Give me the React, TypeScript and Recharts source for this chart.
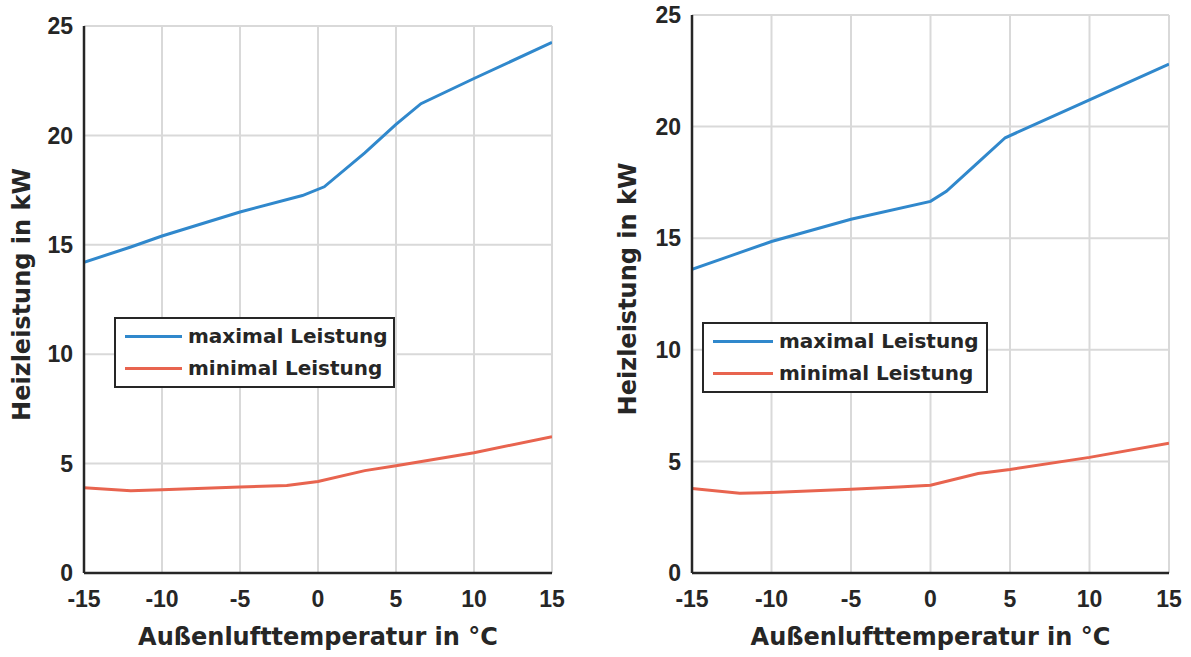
import React from 'react';
import {
  LineChart,
  Line,
  XAxis,
  YAxis,
  CartesianGrid,
  Legend
} from 'recharts';

// temperature ticks / power ticks
const xTicks = [-15, -10, -5, 0, 5, 10, 15];
const yTicks = [0, 5, 10, 15, 20, 25];

// left plot
const leftMaxT = [-15, -12, -10, -5, -1, 0.4, 3, 5, 6.6, 10, 15];
const leftMaxP = [14.2, 14.9, 15.4, 16.5, 17.25, 17.65, 19.2, 20.5, 21.45, 22.6, 24.25];
const leftMinT = [-15, -12, -10, -5, -2, 0, 3, 5, 10, 15];
const leftMinP = [3.9, 3.76, 3.8, 3.93, 4.0, 4.18, 4.68, 4.9, 5.5, 6.23];

// right plot
const rightMaxT = [-15, -12, -10, -5, 0, 1, 3, 4.7, 10, 15];
const rightMaxP = [13.6, 14.35, 14.85, 15.85, 16.65, 17.1, 18.4, 19.5, 21.2, 22.8];
const rightMinT = [-15, -12, -10, -5, -2, 0, 3, 5, 10, 15];
const rightMinP = [3.79, 3.57, 3.61, 3.75, 3.85, 3.93, 4.46, 4.64, 5.18, 5.81];

const seriesNames = ['maximal Leistung', 'minimal Leistung'];

const BLUE = '#3088cc';
const RED = '#e8644f';
const INK = '#262626';

const toPoints = (t: number[], p: number[]) => t.map((x, i) => ({ t: x, p: p[i] }));

const tickFont = { fill: INK, fontSize: 23, fontWeight: 'bold', fontFamily: 'Liberation Sans, Arial, sans-serif' };
const titleFont = 'DejaVu Sans, sans-serif';
const axisStroke = { stroke: INK, strokeWidth: 2.5 };

function LegendBox({ payload, swatch, gap }: any) {
  return (
    <div
      style={{
        width: '100%',
        height: '100%',
        boxSizing: 'border-box',
        border: `2.5px solid ${INK}`,
        background: '#fff',
        paddingLeft: 9,
        paddingTop: 1,
      }}
    >
      {(payload || []).map((e: any) => (
        <div key={e.value} style={{ display: 'flex', alignItems: 'center', height: 32 }}>
          <div style={{ width: swatch, height: 3, background: e.color }} />
          <span
            style={{
              marginLeft: gap,
              fontFamily: titleFont,
              fontWeight: 'bold',
              fontSize: 20,
              color: INK,
              whiteSpace: 'nowrap',
            }}
          >
            {e.value}
          </span>
        </div>
      ))}
    </div>
  );
}

function Panel({ width, height, margin, yWidth, maxData, minData, legend, yTitleX }: any) {
  const yTitle = (props: any) => {
    const vb = props.viewBox;
    const cx = vb.x + yTitleX;
    const cy = vb.y + vb.height / 2 - 5;
    return (
      <text
        x={cx}
        y={cy}
        transform={`rotate(-90, ${cx}, ${cy})`}
        textAnchor="middle"
        dominantBaseline="central"
        fill={INK}
        fontSize={24}
        fontWeight="bold"
        fontFamily={titleFont}
      >
        Heizleistung in kW
      </text>
    );
  };
  return (
    <LineChart width={width} height={height} margin={margin}>
      <CartesianGrid stroke="#d9d9d9" strokeWidth={2} />
      {/* inward tick marks (mirrored, no labels) */}
      <XAxis
        xAxisId="bt"
        orientation="bottom"
        type="number"
        domain={[-15, 15]}
        ticks={xTicks}
        mirror
        height={0}
        axisLine={false}
        tickLine={axisStroke}
        tickSize={7}
        tick={false}
      />
      <YAxis
        yAxisId="lt"
        orientation="left"
        type="number"
        domain={[0, 25]}
        ticks={yTicks}
        mirror
        width={0}
        axisLine={false}
        tickLine={axisStroke}
        tickSize={7}
        tick={false}
      />
      <XAxis
        type="number"
        dataKey="t"
        domain={[-15, 15]}
        ticks={xTicks}
        height={84}
        axisLine={axisStroke}
        tickLine={false}
        tickSize={0}
        tickMargin={18}
        tick={tickFont}
        allowDataOverflow
        label={{
          value: 'Außenlufttemperatur in °C',
          position: 'insideBottom',
          offset: 12,
          fill: INK,
          fontSize: 24,
          fontWeight: 'bold',
          fontFamily: titleFont,
        }}
      />
      <XAxis
        xAxisId="top"
        orientation="top"
        type="number"
        domain={[-15, 15]}
        ticks={xTicks}
        mirror
        height={0}
        axisLine={axisStroke}
        tickLine={axisStroke}
        tickSize={7}
        tick={false}
      />
      <YAxis
        type="number"
        domain={[0, 25]}
        ticks={yTicks}
        width={yWidth}
        axisLine={axisStroke}
        tickLine={false}
        tickSize={0}
        tickMargin={11}
        tick={tickFont}
        allowDataOverflow
        label={{ content: yTitle }}
      />
      <YAxis
        yAxisId="right"
        orientation="right"
        type="number"
        domain={[0, 25]}
        ticks={yTicks}
        mirror
        width={0}
        axisLine={axisStroke}
        tickLine={axisStroke}
        tickSize={7}
        tick={false}
      />
      <Line
        data={maxData}
        dataKey="p"
        name={seriesNames[0]}
        type="linear"
        stroke={BLUE}
        strokeWidth={3}
        dot={false}
        isAnimationActive={false}
      />
      <Line
        data={minData}
        dataKey="p"
        name={seriesNames[1]}
        type="linear"
        stroke={RED}
        strokeWidth={3}
        dot={false}
        isAnimationActive={false}
      />
      <Legend
        layout="horizontal"
        verticalAlign="middle"
        align="center"
        wrapperStyle={{ left: legend.left, top: legend.top, width: legend.width, height: 71 }}
        content={(p: any) => <LegendBox payload={p.payload} swatch={legend.swatch} gap={legend.gap} />}
      />
    </LineChart>
  );
}

export default function App() {
  return (
    <div
      style={{
        position: 'absolute',
        left: 0,
        top: 0,
        width: 1191,
        height: 657,
        background: '#fff',
        overflow: 'hidden',
      }}
    >
      <div style={{ position: 'absolute', left: 0, top: 0 }}>
        <Panel
          width={600}
          height={657}
          margin={{ top: 26, right: 48, bottom: 0, left: 0 }}
          yWidth={84}
          maxData={toPoints(leftMaxT, leftMaxP)}
          minData={toPoints(leftMinT, leftMinP)}
          legend={{ left: 114, top: 317, width: 281, swatch: 57, gap: 6 }}
          yTitleX={22}
        />
      </div>
      <div style={{ position: 'absolute', left: 600, top: 0 }}>
        <Panel
          width={591}
          height={657}
          margin={{ top: 15, right: 22, bottom: 0, left: 0 }}
          yWidth={92}
          maxData={toPoints(rightMaxT, rightMaxP)}
          minData={toPoints(rightMinT, rightMinP)}
          legend={{ left: 102, top: 322, width: 286, swatch: 60, gap: 6 }}
          yTitleX={28}
        />
      </div>
    </div>
  );
}
